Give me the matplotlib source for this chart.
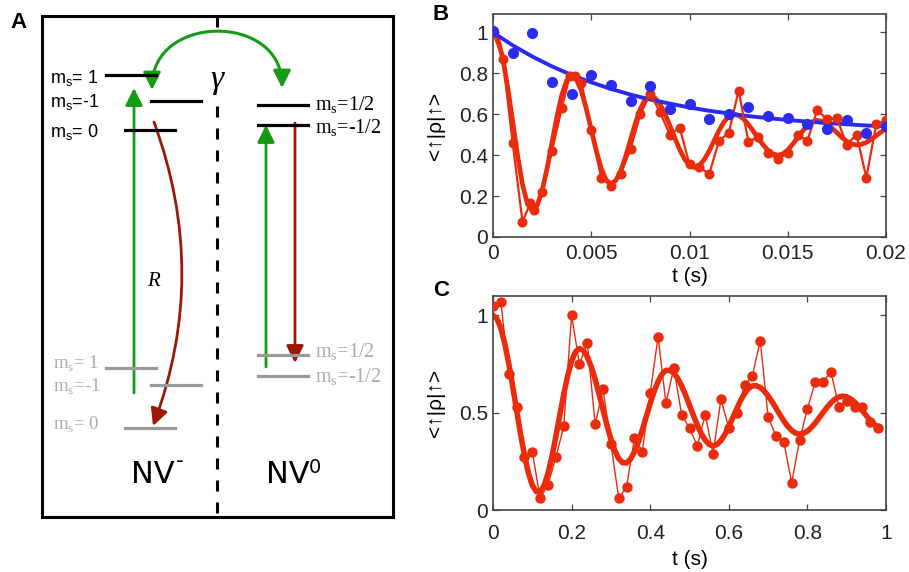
import numpy as np
import matplotlib.pyplot as plt
from matplotlib.patches import Rectangle, FancyArrowPatch
from matplotlib.path import Path
from matplotlib.transforms import Bbox, TransformedBbox

plt.rcParams['font.family'] = ['Liberation Sans', 'DejaVu Sans']

# ---------------- panel B (times in ms) ----------------
b_blue_t = np.arange(0, 21, 1)
b_blue_y = [1.005, 0.90, 0.995, 0.76, 0.70, 0.79, 0.745, 0.665, 0.74, 0.625, 0.65,
            0.578, 0.60, 0.636, 0.59, 0.584, 0.55, 0.53, 0.574, 0.506, 0.545]
b_blue_fit = [1.00, 0.937, 0.882, 0.834, 0.792, 0.756, 0.724, 0.696, 0.672, 0.652, 0.633,
              0.617, 0.604, 0.591, 0.581, 0.572, 0.564, 0.557, 0.551, 0.545, 0.541]

b_red_t = [0, 0.5, 1.0, 1.5, 1.9, 2.1, 2.5, 3.0, 3.5, 3.9, 4.15, 4.5, 5.0, 5.5, 6.0,
           6.5, 7.0, 7.5, 8.0, 8.5, 9.0, 9.5, 10.0, 10.5, 11.0, 11.5, 12.0, 12.5, 13.0,
           13.5, 14.0, 14.5, 15.0, 15.5, 16.0, 16.5, 17.0, 17.5, 18.0, 18.5, 19.0, 19.5, 20.0]
b_red_y = [1.0, 0.87, 0.46, 0.075, 0.165, 0.13, 0.22, 0.42, 0.63, 0.785, 0.785, 0.755,
           0.525, 0.29, 0.25, 0.31, 0.43, 0.60, 0.70, 0.61, 0.50, 0.535, 0.355, 0.343,
           0.307, 0.47, 0.51, 0.715, 0.465, 0.49, 0.41, 0.38, 0.41, 0.50, 0.47, 0.62,
           0.575, 0.58, 0.452, 0.50, 0.29, 0.55, 0.57]

b_fit_t = np.arange(0, 20.01, 0.25)
b_red_fit = [1.00, 0.967, 0.873, 0.731, 0.565, 0.399, 0.257, 0.163, 0.13,
             0.155, 0.226, 0.334, 0.46, 0.586, 0.694, 0.765, 0.79,
             0.77, 0.713, 0.626, 0.525, 0.424, 0.337, 0.28, 0.26,
             0.276, 0.323, 0.393, 0.475, 0.557, 0.627, 0.674, 0.69,
             0.679, 0.649, 0.602, 0.545, 0.485, 0.427, 0.381, 0.350, 0.34,
             0.350, 0.378, 0.420, 0.47, 0.520, 0.562, 0.59, 0.60,
             0.594, 0.577, 0.55, 0.517, 0.483, 0.45, 0.423, 0.406, 0.40,
             0.406, 0.425, 0.453, 0.485, 0.517, 0.545, 0.564, 0.57,
             0.565, 0.552, 0.533, 0.51, 0.487, 0.468, 0.455, 0.45,
             0.453, 0.462, 0.478, 0.495, 0.513, 0.53]

# ---------------- panel C (times in s) ----------------
c_t = np.round(np.arange(0, 0.99, 0.02), 2)
c_y = [1.05, 1.07, 0.70, 0.53, 0.27, 0.30, 0.06, 0.13, 0.27, 0.43,
       1.00, 0.75, 0.86, 0.44, 0.62, 0.34, 0.06, 0.12, 0.37, 0.30,
       0.60, 0.89, 0.55, 0.73, 0.49, 0.42, 0.33, 0.49, 0.29, 0.57,
       0.42, 0.50, 0.64, 0.69, 0.87, 0.48, 0.38, 0.35, 0.14, 0.36,
       0.52, 0.66, 0.66, 0.71, 0.53, 0.56, 0.53, 0.53, 0.45, 0.42]

c_fit_t = np.round(np.arange(0, 0.985, 0.01), 2)
c_fit = [1.00, 0.984, 0.934, 0.855, 0.754, 0.637, 0.514, 0.392, 0.282, 0.191, 0.127, 0.095,
         0.094, 0.126, 0.188, 0.275, 0.378, 0.487, 0.595, 0.690, 0.766, 0.814, 0.83,
         0.819, 0.787, 0.736, 0.671, 0.595, 0.515, 0.436, 0.364, 0.305, 0.264, 0.243,
         0.242, 0.262, 0.299, 0.350, 0.412, 0.48, 0.548, 0.610, 0.661, 0.698, 0.718,
         0.718, 0.704, 0.677, 0.638, 0.591, 0.538, 0.486, 0.435, 0.392, 0.359, 0.337, 0.33,
         0.337, 0.357, 0.388, 0.429, 0.474, 0.519, 0.563, 0.598, 0.625, 0.638,
         0.639, 0.630, 0.612, 0.587, 0.557, 0.524, 0.490, 0.458, 0.430, 0.409, 0.395, 0.39,
         0.394, 0.405, 0.424, 0.447, 0.474, 0.501, 0.528, 0.551, 0.569, 0.581, 0.585,
         0.582, 0.571, 0.555, 0.534, 0.510, 0.485, 0.461, 0.440, 0.424]

# ---------------- panel A levels (diagram units = pixels) ----------------
nvm_labels = ['1', '-1', '0']
nvm_x0 = [106, 151, 125]
nvm_top_y = [75, 101, 130]
nvm_top_text_y = [83, 107, 137]
nvm_bot_y = [368, 385, 428]
nvm_bot_text_y = [369, 392, 430]
nv0_labels = ['1/2', '-1/2']
nv0_x0 = [258, 258]
nv0_top_y = [105, 125]
nv0_top_text_y = [111, 134]
nv0_bot_y = [355, 376]
nv0_bot_text_y = [358, 383]

red = '#ea2c0c'
blue = '#2a2af0'
green = '#159a15'
dred = '#9a1805'
grey = '#9a9a9a'
grey_txt = '#adadad'
frame = '#444444'

fig = plt.figure(figsize=(9.09, 5.72), dpi=100)

# ================= panel A =================
axA = fig.add_axes([0, 0, 420 / 909, 1])
axA.set_xlim(0, 420)
axA.set_ylim(572, 0)
axA.axis('off')

axA.add_patch(Rectangle((42, 16), 351, 501, fill=False, lw=2.2, ec='black'))
dash = (0, (3.6, 3.6))
axA.plot([217, 217], [16, 38], color='black', lw=2.2, linestyle=dash)
axA.plot([217, 217], [106, 517], color='black', lw=2.2, linestyle=dash)
axA.text(10, 22, 'A', fontsize=16, fontweight='bold', va='center', ha='left')

for lab, x0, yt, tyt, yb, tyb in zip(nvm_labels, nvm_x0, nvm_top_y, nvm_top_text_y,
                                     nvm_bot_y, nvm_bot_text_y):
    axA.plot([x0, x0 + 50], [yt, yt], color='black', lw=2.3)
    axA.plot([x0, x0 + 50], [yb, yb], color=grey, lw=2.3)
    txt = 'm$_\\mathregular{s}$=' + (' ' + lab if not lab.startswith('-') else lab)
    axA.text(50, tyt, txt, fontsize=13, va='baseline', ha='left')
    axA.text(53, tyb, txt, fontsize=13.5, va='baseline', ha='left',
             family='Liberation Serif', color=grey_txt)

for lab, x0, yt, tyt, yb, tyb in zip(nv0_labels, nv0_x0, nv0_top_y, nv0_top_text_y,
                                     nv0_bot_y, nv0_bot_text_y):
    axA.plot([x0, x0 + 50], [yt, yt], color='black', lw=2.3)
    axA.plot([x0, x0 + 50], [yb, yb], color=grey, lw=2.3)
    txt = 'm$_\\mathregular{s}$=' + lab
    axA.text(315, tyt, txt, fontsize=14.5, va='baseline', ha='left',
             family='Liberation Serif')
    axA.text(315, tyb, txt, fontsize=14.5, va='baseline', ha='left',
             family='Liberation Serif', color=grey_txt)

# green pumping arrows
for x, y0, y1 in [(134, 393, 88), (266, 367, 125)]:
    axA.add_patch(FancyArrowPatch((x, y0), (x, y1), arrowstyle='-|>', mutation_scale=26,
                                  color=green, lw=2, shrinkA=0, shrinkB=0))
# red decay arrows
axA.add_patch(FancyArrowPatch((154, 122), (153, 426), connectionstyle='arc3,rad=-0.185',
                              arrowstyle='-|>', mutation_scale=26, color=dred, lw=2,
                              shrinkA=0, shrinkB=0))
axA.add_patch(FancyArrowPatch((295, 123), (295, 363), arrowstyle='-|>', mutation_scale=26,
                              color=dred, lw=2, shrinkA=0, shrinkB=0))
# gamma double arrow
arc = Path([(152, 90), (152, 13), (282, 13), (282, 88)],
           [Path.MOVETO, Path.CURVE4, Path.CURVE4, Path.CURVE4])
axA.add_patch(FancyArrowPatch(path=arc, arrowstyle='<|-|>', mutation_scale=26,
                              color=green, lw=2.2))

axA.text(217, 80, 'γ', fontsize=24, style='italic', family='Liberation Serif',
         ha='center', va='center')
axA.text(153, 282, 'R', fontsize=15, style='italic', family='Liberation Serif',
         ha='center', va='center')
axA.text(131, 483, 'NV', fontsize=22, family='DejaVu Sans', ha='left', va='baseline')
axA.text(176, 467, '-', fontsize=15, family='DejaVu Sans', ha='left', va='baseline')
axA.text(266, 483, 'NV', fontsize=22, family='DejaVu Sans', ha='left', va='baseline')
axA.text(309, 473, '0', fontsize=14, family='DejaVu Sans', ha='left', va='baseline')

clip = TransformedBbox(Bbox([[427 / 909, 0], [1, 1]]), fig.transFigure)


def style_axes(ax):
    for sp in ax.spines.values():
        sp.set_color(frame)
        sp.set_linewidth(1.2)
    ax.tick_params(direction='in', top=True, right=True, length=4, width=0.9,
                   color=frame, labelsize=15, labelcolor='#222222')
    ax.set_ylabel('<↑|ρ|↑>', fontsize=15)
    ax.yaxis.set_label_coords(-0.122, 0.5)
    ax.yaxis.label.set_clip_box(clip)
    ax.yaxis.label.set_clip_on(True)


# ================= panel B =================
axB = fig.add_axes([493 / 909, 1 - 237 / 572, 393 / 909, 223 / 572])
axB.plot(b_fit_t / 1000, b_red_fit, color=red, lw=3.4, zorder=2)
axB.plot(np.array(b_red_t) / 1000, b_red_y, '-o', color=red, lw=1.6, ms=6.2, zorder=3)
axB.plot(b_blue_t / 1000, b_blue_fit, color=blue, lw=2.8, zorder=2.5)
axB.plot(b_blue_t / 1000, b_blue_y, 'o', color=blue, ms=7, zorder=4)
axB.set_xlim(0, 0.02)
axB.set_ylim(0, 1.09)
axB.set_xticks([0, 0.005, 0.01, 0.015, 0.02], ['0', '0.005', '0.01', '0.015', '0.02'])
axB.set_yticks([0, 0.2, 0.4, 0.6, 0.8, 1.0], ['0', '0.2', '0.4', '0.6', '0.8', '1'])
style_axes(axB)
axB.tick_params(axis='x', pad=5)
axB.set_xlabel('t (s)', fontsize=15, labelpad=3)
fig.text(433 / 909, 1 - 14 / 572, 'B', fontsize=16, fontweight='bold', va='center')

# ================= panel C =================
axC = fig.add_axes([493 / 909, 1 - 510 / 572, 393 / 909, 214 / 572])
axC.plot(c_fit_t, c_fit, color=red, lw=4, zorder=2)
axC.plot(c_t, c_y, '-o', color=red, lw=1.0, ms=6.5, zorder=3)
axC.set_xlim(0, 1)
axC.set_ylim(0, 1.1)
axC.set_xticks([0, 0.2, 0.4, 0.6, 0.8, 1.0], ['0', '0.2', '0.4', '0.6', '0.8', '1'])
axC.set_yticks([0, 0.5, 1.0], ['0', '0.5', '1'])
style_axes(axC)
axC.tick_params(axis='x', pad=10)
axC.set_xlabel('t (s)', fontsize=15, labelpad=5)
fig.text(433 / 909, 1 - 290 / 572, 'C', fontsize=16, fontweight='bold', va='center')

fig.savefig('out.png', dpi=100)
